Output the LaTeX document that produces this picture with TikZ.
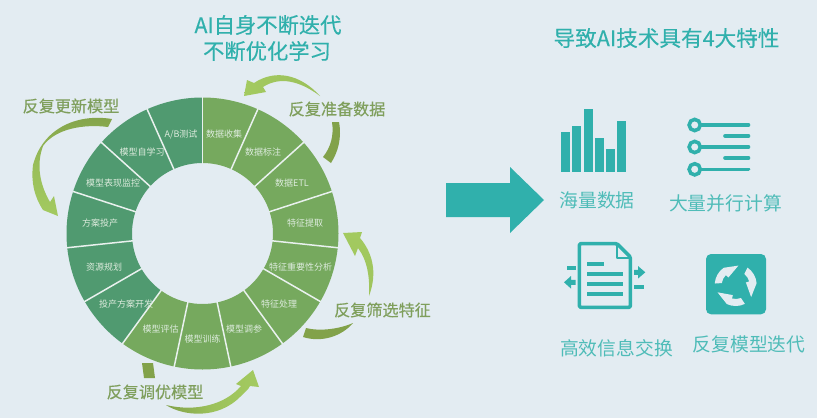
\documentclass[tikz,border=0pt]{standalone}
\usepackage{fontspec}
\setmainfont{Noto Sans CJK SC}
\newfontfamily\heavierf[FakeBold=0.35]{Noto Sans CJK SC}
\definecolor{bgc}{HTML}{E3ECF2}
\definecolor{teal1}{HTML}{30B0AC}
\definecolor{olive1}{HTML}{7F9F5C}
\definecolor{wheelR}{HTML}{76A95E}
\definecolor{wheelL}{HTML}{509A70}
\definecolor{divc}{HTML}{E9F1EE}
\definecolor{lblc}{HTML}{DDEBDD}
\definecolor{arrL}{HTML}{A3CA60}
\definecolor{arrD}{HTML}{82A24A}
\tikzset{
  seglabel/.style={text=lblc,inner sep=0pt,font=\fontsize{9}{9}\selectfont},
  titlelabel/.style={text=teal1,inner sep=0pt,font=\heavierf\fontsize{21.3}{21}\selectfont},
  looplabel/.style={text=olive1,inner sep=0pt,font=\heavierf\fontsize{16.1}{16}\selectfont},
  iconlabel/.style={text=teal1!85!white,inner sep=0pt,font=\fontsize{18.8}{19}\selectfont},
  chunk/.style={fill=arrD},
  iconfill/.style={fill=teal1,draw=none},
  iconline/.style={draw=teal1,line width=3.6pt,line cap=round},
  iconthin/.style={draw=teal1,line width=3.6pt}
}
\begin{document}
\begin{tikzpicture}[x=1pt,y=-1pt]
\path[use as bounding box,fill=bgc] (0,0) rectangle (817,418);
% wheel
\begin{scope}[shift={(202.5,233.5)},y=1pt]
  \foreach \n in {0,...,14}{
    \pgfmathsetmacro\aS{90-24*\n}
    \pgfmathsetmacro\aE{90-24*(\n+1)}
    \ifnum\n<9 \def\wc{wheelR}\else\def\wc{wheelL}\fi
    \fill[\wc] (\aS:70.5) arc[start angle=\aS,end angle=\aE,radius=70.5pt]
      -- (\aE:136) arc[start angle=\aE,end angle=\aS,radius=136pt] -- cycle;
  }
  \foreach \n in {0,...,14}{
    \pgfmathsetmacro\aS{90-24*\n}
    \draw[divc,line width=1.5pt] (\aS:70) -- (\aS:136.5);
  }
\end{scope}
\node[seglabel] (s1) at (224,134.5) {数据收集};
\node[seglabel] (s2) at (263,152) {数据标注};
\node[seglabel] (s3) at (292,183) {数据ETL};
\node[seglabel] (s4) at (305,223) {特征提取};
\node[seglabel] (s5) at (300.5,267) {特征重要性分析};
\node[seglabel] (s6) at (279,304) {特征处理};
\node[seglabel] (s7) at (244,329.5) {模型调参};
\node[seglabel] (s8) at (202.5,339) {模型训练};
\node[seglabel] (s9) at (160.5,329.5) {模型评估};
\node[seglabel] (s10) at (126,304) {投产方案开发};
\node[seglabel] (s11) at (104,267) {资源规划};
\node[seglabel] (s12) at (100,223) {方案投产};
\node[seglabel] (s13) at (113,183) {模型表现监控};
\node[seglabel] (s14) at (142,152) {模型自学习};
\node[seglabel] (s15) at (181,134.5) {A/B测试};
% loop arrows
\shade[left color=arrL,right color=arrL!75!arrD]
  (244,96) -- (247,80) -- (254,83)
  .. controls (275,69) and (300,74) .. (320,96)
  .. controls (300,81) and (280,76) .. (263,87)
  -- (266,92) -- cycle;
\fill[chunk] (332,122) -- (339,122) .. controls (342,138) and (338,152) .. (331,163)
  -- (323,157) .. controls (331,147) and (334,135) .. (332,122) -- cycle;
\shade[top color=arrD,bottom color=arrL,middle color=arrL!70!arrD]
  (112,119) .. controls (75,113) and (42,130) .. (33,165)
  .. controls (31,182) and (34,196) .. (43,210)
  -- (58,216) -- (54,196) -- (50,202)
  .. controls (40,185) and (36,165) .. (43,146)
  .. controls (56,128) and (85,124) .. (108,127) -- cycle;
\shade[top color=arrL,bottom color=arrL!85!arrD]
  (343,233) -- (362,232) -- (360,238)
  .. controls (372,252) and (378,272) .. (369,296)
  .. controls (370,276) and (367,260) .. (358,248)
  -- (355,256) -- cycle;
\fill[chunk] (353,323) .. controls (342,328) and (322,332) .. (306,328)
  -- (303,337) .. controls (322,343) and (342,336) .. (353,323) -- cycle;
\shade[left color=arrD,right color=arrL,middle color=arrL!80!arrD]
  (166,405) .. controls (183,416) and (218,420) .. (241,396)
  .. controls (245,392) and (248,390) .. (250,386)
  -- (259,387) -- (253,370) -- (236,384) -- (241,386)
  .. controls (225,405) and (195,412) .. (166,405) -- cycle;
\fill[chunk] (142,363) -- (153,363) -- (155,378) -- (144,378) -- cycle;
% titles
\node[titlelabel] (t1) at (268,25) {AI自身不断迭代};
\node[titlelabel] (t2) at (267,51) {不断优化学习};
\node[titlelabel,font=\heavierf\fontsize{21.6}{21}\selectfont] (t3) at (666.5,38) {导致AI技术具有4大特性};
\node[looplabel] (l1) at (337,109) {反复准备数据};
\node[looplabel] (l2) at (71,106) {反复更新模型};
\node[looplabel] (l3) at (382.5,310) {反复筛选特征};
\node[looplabel] (l4) at (155,392) {反复调优模型};
% big arrow
\fill[teal1] (446,183) -- (510,183) -- (510,167) -- (544,200) -- (510,233) -- (510,217) -- (446,217) -- cycle;
% bars
\fill[teal1] (561,132.3) rectangle (570,172);
\fill[teal1] (572,126) rectangle (581,172);
\fill[teal1] (584,109) rectangle (593,172);
\fill[teal1] (595,138) rectangle (604,172);
\fill[teal1] (606,149) rectangle (615,172);
\fill[teal1] (617,121) rectangle (626,172);
\node[iconlabel] (i1) at (597,200) {海量数据};
% list icon
\foreach \yy in {125,147,169.3}{
  \draw[teal1,line width=3.6pt] (694.7,\yy) circle[radius=5.6pt];
  \draw[iconline] (701,\yy) -- (748.5,\yy);
}
\draw[iconline] (725,136) -- (748.5,136);
\draw[iconline] (725,158) -- (748.5,158);
\node[iconlabel] (i2) at (725.5,203) {大量并行计算};
% document icon
\draw[iconthin,line join=round,rounded corners=1.5pt] (579.3,243.6) -- (617,243.6) -- (630.4,257) -- (630.4,307.4) -- (579.3,307.4) -- cycle;
\draw[teal1,line width=2pt,line join=round] (617,244) -- (617,257.5) -- (630,257.5);
\fill[teal1] (587,261.6) rectangle (603.5,266);
\fill[teal1] (587,271.6) rectangle (622.5,276.3);
\fill[teal1] (587,281.6) rectangle (622.5,286.3);
\fill[teal1] (587,291.6) rectangle (622.5,296.3);
\fill[teal1] (566.5,266) rectangle (575.5,269.6);
\fill[teal1] (634,285.2) rectangle (643.5,288.8);
\fill[teal1] (564,282.3) -- (571,276) -- (571,279.8) -- (575.5,279.8) -- (575.5,284.8) -- (571,284.8) -- (571,288.6) -- cycle;
\fill[teal1] (645.3,272.3) -- (638,266) -- (638,269.8) -- (634,269.8) -- (634,274.8) -- (638,274.8) -- (638,278.6) -- cycle;
\node[iconlabel] (i3) at (616.5,348) {高效信息交换};
% refresh icon
\fill[teal1,rounded corners=5pt] (706,254) rectangle (766,314.3);
\begin{scope}[shift={(735.7,285)},y=1pt]
  \foreach \r in {0,120,240}{
    \fill[bgc,rotate=\r] (56:21) arc[start angle=56,end angle=5,radius=21pt]
      -- (-38:19.6) -- (14:10.5) -- (15:14)
      arc[start angle=15,end angle=52,radius=14pt] -- cycle;
  }
\end{scope}
\node[iconlabel] (i4) at (749,344) {反复模型迭代};
\end{tikzpicture}
\end{document}
